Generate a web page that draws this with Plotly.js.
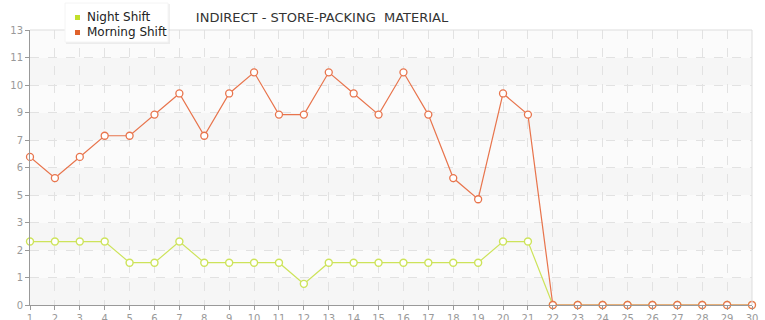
<!DOCTYPE html>
<html>
<head>
<meta charset="utf-8">
<script src="https://cdn.plot.ly/plotly-3.0.1.min.js"></script>
<style>html,body{margin:0;padding:0;background:#fff}#chart{width:765px;height:320px}</style>
</head>
<body>
<div id="chart"></div>
<script>
var days = [1,2,3,4,5,6,7,8,9,10,11,12,13,14,15,16,17,18,19,20,21,22,23,24,25,26,27,28,29,30];
var nightShift = [3,3,3,3,2,2,3,2,2,2,2,1,2,2,2,2,2,2,2,3,3,0,0,0,0,0,0,0,0,0];
var morningShift = [7,6,7,8,8,9,10,8,10,11,9,9,11,10,9,11,9,6,5,10,9,0,0,0,0,0,0,0,0,0];
var yTickVals = [0,1.3,2.6,3.9,5.2,6.5,7.8,9.1,10.4,11.7,13];
var yTickText = ['0','1','2','3','5','6','7','9','10','11','13'];
var seriesNames = ['Night Shift','Morning Shift'];

var nightColor = '#cde35a';
var morningColor = '#e8744c';
var nightKey = '#c2df2a';
var morningKey = '#e0622b';

// pixel helpers for the custom legend (plot area: x 30..752, y 30..305)
function px(x){ return (x - 30) / 722; }
function py(y){ return (305 - y) / 275; }

var shapes = [];
for (var i = 0; i < yTickVals.length - 1; i++) {
  shapes.push({type:'rect', xref:'paper', yref:'y', x0:0, x1:1, y0:yTickVals[i], y1:yTickVals[i+1],
    fillcolor: (i % 2 === 0) ? '#f6f6f6' : '#fbfbfb', line:{width:0}, layer:'below'});
}
shapes.push({type:'line', xref:'paper', yref:'paper', x0:0, x1:1, y0:1, y1:1, line:{color:'#dddddd', width:1}});
shapes.push({type:'line', xref:'paper', yref:'paper', x0:1, x1:1, y0:0, y1:1, line:{color:'#dddddd', width:1}});
// legend box with soft shadow
shapes.push({type:'rect', xref:'paper', yref:'paper', x0:px(66), x1:px(170), y0:py(44), y1:py(4),
  fillcolor:'rgba(0,0,0,0.06)', line:{width:0}});
shapes.push({type:'rect', xref:'paper', yref:'paper', x0:px(65), x1:px(168), y0:py(42), y1:py(3),
  fillcolor:'#ffffff', line:{color:'#f4f4f4', width:1}});
var keyColors = [nightKey, morningKey];
var keyY = [17.5, 32.5];
var annotations = [];
for (var k = 0; k < seriesNames.length; k++) {
  shapes.push({type:'rect', xref:'paper', yref:'paper', x0:px(75), x1:px(80), y0:py(keyY[k]+2.5), y1:py(keyY[k]-2.5),
    fillcolor:keyColors[k], line:{width:0}});
  annotations.push({text:seriesNames[k], xref:'paper', yref:'paper', x:px(85), y:py(keyY[k]-0.5),
    xanchor:'left', yanchor:'middle', showarrow:false,
    font:{family:'DejaVu Sans, Verdana, sans-serif', size:12, color:'#222222'}});
}

var traces = [
  {x: days, y: nightShift, mode:'lines+markers', name: seriesNames[0], cliponaxis:false,
   line:{color:nightColor, width:1.2},
   marker:{symbol:'circle', size:7, color:'#ffffff', line:{color:nightColor, width:1.4}}},
  {x: days, y: morningShift, mode:'lines+markers', name: seriesNames[1], cliponaxis:false,
   line:{color:morningColor, width:1.2},
   marker:{symbol:'circle', size:7, color:'#ffffff', line:{color:morningColor, width:1.3}}}
];

var layout = {
  width:765, height:320,
  margin:{l:30, r:13, t:30, b:15},
  paper_bgcolor:'#ffffff', plot_bgcolor:'#ffffff',
  font:{family:'DejaVu Sans, Verdana, sans-serif', color:'#999999', size:10},
  title:{text:'INDIRECT - STORE-PACKING  MATERIAL', x:0.421, xanchor:'center', y:0.947, yanchor:'middle',
         font:{family:'DejaVu Sans, Verdana, sans-serif', size:13, color:'#333333'}},
  showlegend:false,
  xaxis:{range:[1,30], tickvals:days, ticktext:days.map(String), showgrid:true, gridcolor:'#e2e2e2', griddash:'dash',
         gridwidth:1, zeroline:false, showline:true, linecolor:'#999999', linewidth:1,
         ticks:'outside', ticklen:4, tickcolor:'#999999', tickfont:{size:10, color:'#999999'}, fixedrange:true},
  yaxis:{range:[0,13], tickvals:yTickVals, ticktext:yTickText, showgrid:true, gridcolor:'#e2e2e2', griddash:'dash',
         gridwidth:1, zeroline:false, showline:true, linecolor:'#999999', linewidth:1,
         ticks:'outside', ticklen:4, tickcolor:'#999999', tickfont:{size:10, color:'#999999'}, fixedrange:true},
  shapes: shapes,
  annotations: annotations
};
Plotly.newPlot('chart', traces, layout, {displayModeBar:false, staticPlot:true});
</script>
</body>
</html>
